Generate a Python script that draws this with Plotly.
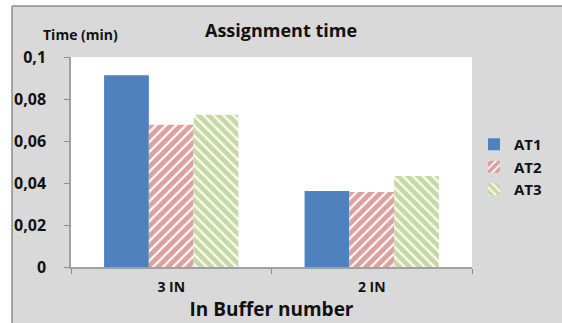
import plotly.graph_objects as go

# Data
categories = ["3 IN", "2 IN"]
at1 = [0.0913, 0.0362]
at2 = [0.0677, 0.0357]
at3 = [0.0725, 0.0433]
y_ticks = [0, 0.02, 0.04, 0.06, 0.08, 0.1]

W, H = 562, 323
L, R, T, B = 71, 90, 57, 56
pw, ph = W - L - R, H - T - B

def px_x(p):
    return (p - L) / pw

def px_y(p):
    return (H - B - p) / ph

FONT = "Open Sans"
TXT = "#111111"

fig = go.Figure()
fig.add_trace(go.Bar(
    name="AT1", x=categories, y=at1,
    marker=dict(color="#4f81bd", line=dict(width=0)),
))
fig.add_trace(go.Bar(
    name="AT2", x=categories, y=at2,
    marker=dict(color="white", line=dict(width=0),
                pattern=dict(shape="/", fgcolor="#b9443f", bgcolor="white",
                             size=7, solidity=0.7)),
))
fig.add_trace(go.Bar(
    name="AT3", x=categories, y=at3,
    marker=dict(color="white", line=dict(width=0),
                pattern=dict(shape="\\", fgcolor="#8fb347", bgcolor="white",
                             size=7, solidity=0.7)),
))

shapes = [
    # white strip left of the chart frame
    dict(type="rect", xref="paper", yref="paper",
         x0=px_x(-5), x1=px_x(12), y0=px_y(H + 5), y1=px_y(-5),
         fillcolor="white", line=dict(width=0), layer="below"),
    # white strip above the chart frame
    dict(type="rect", xref="paper", yref="paper",
         x0=px_x(-5), x1=px_x(W + 5), y0=px_y(6), y1=px_y(-5),
         fillcolor="white", line=dict(width=0), layer="below"),
    # frame edges
    dict(type="line", xref="paper", yref="paper",
         x0=px_x(12), x1=px_x(12), y0=px_y(H + 5), y1=px_y(6),
         line=dict(color="#8c8c8c", width=1.5)),
    dict(type="line", xref="paper", yref="paper",
         x0=px_x(12), x1=px_x(W + 5), y0=px_y(6), y1=px_y(6),
         line=dict(color="#8c8c8c", width=1.5)),
]

def bold(size):
    return dict(family=FONT, size=size, color=TXT, weight="bold")

annotations = [
    dict(text="Time (min)", xref="paper", yref="paper",
         x=px_x(80), y=px_y(35), xanchor="center", yanchor="middle",
         showarrow=False, font=bold(14)),
]

fig.update_layout(
    width=W, height=H,
    margin=dict(l=L, r=R, t=T, b=B, pad=0, autoexpand=False),
    paper_bgcolor="#d9d9d9",
    plot_bgcolor="white",
    separators=",.",
    barmode="group",
    bargap=0.33,
    bargroupgap=0,
    title=dict(text="Assignment time", x=px_x(281), xref="paper",
               xanchor="center", y=1 - 31 / H, yanchor="middle",
               font=bold(18)),
    font=dict(family=FONT, color=TXT),
    showlegend=True,
    legend=dict(x=px_x(474), y=px_y(167), xanchor="left", yanchor="middle",
                bgcolor="rgba(0,0,0,0)", font=bold(15),
                itemwidth=30, tracegroupgap=2, traceorder="normal"),
    shapes=shapes,
    annotations=annotations,
)

fig.update_xaxes(
    showline=True, linecolor="#a0a0a0", linewidth=1.5,
    ticks="outside", tickson="boundaries", ticklen=5, tickcolor="#8c8c8c",
    tickfont=bold(14),
    ticklabelstandoff=6,
    title=dict(text="In Buffer number", standoff=8, font=bold(19)),
    showgrid=False,
)
fig.update_yaxes(
    range=[0, 0.1], tickvals=y_ticks,
    showline=True, linecolor="#a0a0a0", linewidth=1.5,
    ticks="outside", ticklen=5, tickcolor="#8c8c8c",
    tickfont=bold(16),
    ticklabelstandoff=15,
    showgrid=False, zeroline=False,
)

fig.write_html("out.html", config=dict(displayModeBar=False))
